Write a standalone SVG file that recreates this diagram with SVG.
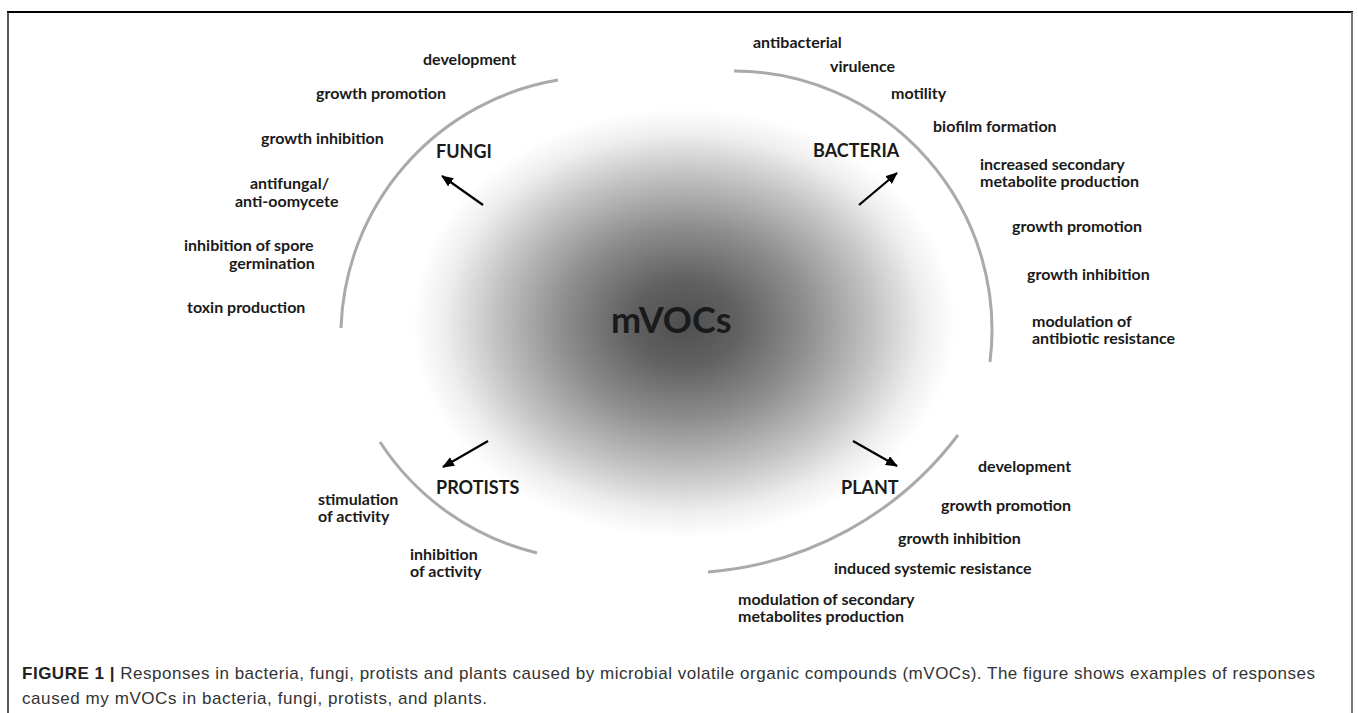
<svg xmlns="http://www.w3.org/2000/svg" width="1358" height="713" viewBox="0 0 1358 713">
  <style>
    .item { font-family: Lato, "Open Sans", sans-serif; font-weight: bold; font-size: 16px; fill: #1a1a1a; }
    .label { font-family: Lato, "Open Sans", sans-serif; font-weight: bold; font-size: 18px; fill: #1a1a1a; }
    .center { font-family: Lato, "Open Sans", sans-serif; font-weight: bold; font-size: 36px; fill: #1a1a1a; }
    .arc { fill: none; stroke: #aaaaaa; stroke-width: 3; }
    .arrow { stroke: #000; stroke-width: 2.2; fill: none; marker-end: url(#head); }
    .cap { font-family: "Liberation Sans", Arial, sans-serif; font-size: 17px; fill: #333; }
    .capb { font-weight: bold; fill: #222; }
  </style>
  <defs>
    <radialGradient id="glow" cx="684" cy="323" r="272" gradientUnits="userSpaceOnUse" gradientTransform="translate(684 323) scale(1 0.79) translate(-684 -323)">
      <stop offset="0" stop-color="#4f4f4f"/>
      <stop offset="0.2" stop-color="#616161"/>
      <stop offset="0.45" stop-color="#8e8e8e"/>
      <stop offset="0.7" stop-color="#c4c4c4"/>
      <stop offset="0.88" stop-color="#eeeeee"/>
      <stop offset="1" stop-color="#ffffff"/>
    </radialGradient>
    <marker id="head" viewBox="0 0 12 10" refX="11" refY="5" markerWidth="12" markerHeight="10" markerUnits="userSpaceOnUse" orient="auto">
      <path d="M0 0 L12 5 L0 10 Z" fill="#000"/>
    </marker>
  </defs>

  <rect width="1358" height="713" fill="#fff"/>
  <g id="frame">
    <line x1="7" y1="12" x2="1353" y2="12" stroke="#000" stroke-width="2"/>
    <line x1="8" y1="12" x2="8" y2="713" stroke="#333" stroke-width="1.6"/>
    <line x1="1352" y1="12" x2="1352" y2="713" stroke="#777" stroke-width="2"/>
  </g>

  <g id="mvocs">
    <ellipse cx="684" cy="323" rx="272" ry="215" fill="url(#glow)"/>
    <text class="center" x="611" y="333">mVOCs</text>
  </g>

  <g id="fungi">
    <path class="arc" d="M 558 80 A 260 260 0 0 0 341 328"/>
    <text class="label" x="436" y="158">FUNGI</text>
    <text class="item" x="423" y="65">development</text>
    <text class="item" x="316" y="99">growth promotion</text>
    <text class="item" x="261" y="144">growth inhibition</text>
    <text class="item" x="250" y="189">antifungal/</text>
    <text class="item" x="235" y="207">anti-oomycete</text>
    <text class="item" x="184" y="251">inhibition of spore</text>
    <text class="item" x="229" y="269">germination</text>
    <text class="item" x="187" y="313">toxin production</text>
  </g>

  <g id="bacteria">
    <path class="arc" d="M 734 71 A 259 259 0 0 1 990 362"/>
    <text class="label" x="813" y="157">BACTERIA</text>
    <text class="item" x="753" y="48">antibacterial</text>
    <text class="item" x="830" y="72">virulence</text>
    <text class="item" x="891" y="99">motility</text>
    <text class="item" x="933" y="132">biofilm formation</text>
    <text class="item" x="980" y="170">increased secondary</text>
    <text class="item" x="980" y="187">metabolite production</text>
    <text class="item" x="1012" y="232">growth promotion</text>
    <text class="item" x="1027" y="280">growth inhibition</text>
    <text class="item" x="1032" y="327">modulation of</text>
    <text class="item" x="1032" y="344">antibiotic resistance</text>
  </g>

  <g id="protists">
    <path class="arc" d="M 380 442 A 261 261 0 0 0 537 553"/>
    <text class="label" x="436" y="494">PROTISTS</text>
    <text class="item" x="318" y="505">stimulation</text>
    <text class="item" x="318" y="522">of activity</text>
    <text class="item" x="410" y="560">inhibition</text>
    <text class="item" x="410" y="577">of activity</text>
  </g>

  <g id="plant">
    <path class="arc" d="M 958 435 A 347 347 0 0 1 708 572"/>
    <text class="label" x="841" y="494">PLANT</text>
    <text class="item" x="978" y="472">development</text>
    <text class="item" x="941" y="511">growth promotion</text>
    <text class="item" x="898" y="544">growth inhibition</text>
    <text class="item" x="834" y="574">induced systemic resistance</text>
    <text class="item" x="738" y="605">modulation of secondary</text>
    <text class="item" x="738" y="622">metabolites production</text>
  </g>

  <g id="connectors">
    <line class="arrow" x1="483" y1="205" x2="442" y2="176"/>
    <line class="arrow" x1="859" y1="205" x2="897" y2="173"/>
    <line class="arrow" x1="488" y1="441" x2="443" y2="467"/>
    <line class="arrow" x1="853" y1="441" x2="897" y2="466"/>
  </g>

  <g id="caption">
    <text class="cap" x="22" y="679" textLength="1293" lengthAdjust="spacing"><tspan class="capb">FIGURE 1 |</tspan> Responses in bacteria, fungi, protists and plants caused by microbial volatile organic compounds (mVOCs). The figure shows examples of responses</text>
    <text class="cap" x="22" y="704" textLength="465" lengthAdjust="spacing">caused my mVOCs in bacteria, fungi, protists, and plants.</text>
  </g>
</svg>
